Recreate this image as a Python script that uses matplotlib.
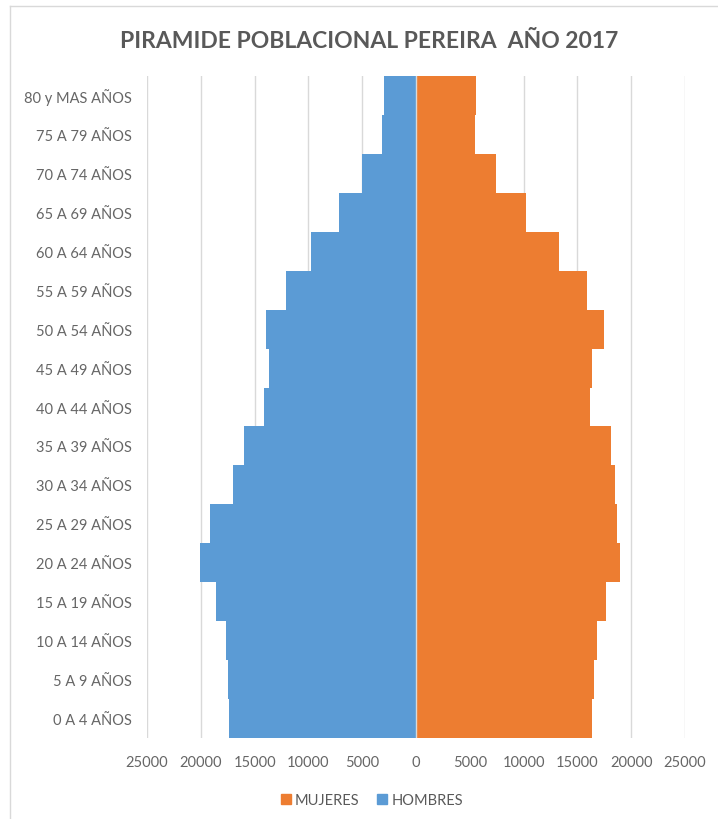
import numpy as np
import matplotlib.pyplot as plt
from matplotlib.patches import Patch
from matplotlib.lines import Line2D

# Grupos de edad (de abajo hacia arriba)
grupos = ['0 A 4 AÑOS', '5 A 9 AÑOS', '10 A 14 AÑOS', '15 A 19 AÑOS', '20 A 24 AÑOS',
          '25 A 29 AÑOS', '30 A 34 AÑOS', '35 A 39 AÑOS', '40 A 44 AÑOS', '45 A 49 AÑOS',
          '50 A 54 AÑOS', '55 A 59 AÑOS', '60 A 64 AÑOS', '65 A 69 AÑOS', '70 A 74 AÑOS',
          '75 A 79 AÑOS', '80 y MAS AÑOS']

hombres = [17350, 17500, 17650, 18550, 20050, 19100, 17050, 15950, 14100, 13700,
           13900, 12100, 9800, 7200, 5000, 3200, 3000]
mujeres = [16400, 16500, 16800, 17700, 18950, 18650, 18450, 18100, 16200, 16400,
           17450, 15850, 13250, 10250, 7450, 5500, 5600]

ticks = [-25000, -20000, -15000, -10000, -5000, 0, 5000, 10000, 15000, 20000, 25000]

azul = '#5B9BD5'
naranja = '#ED7D31'
gris = '#595959'

plt.rcParams['font.family'] = ['Lato', 'DejaVu Sans']

fig = plt.figure(figsize=(7.18, 8.2), dpi=100)
ax = fig.add_axes([147 / 718, 81 / 820, 538 / 718, 662 / 820])

y = np.arange(len(grupos))
ax.barh(y, [-h for h in hombres], height=1.0, color=azul, zorder=2)
ax.barh(y, mujeres, height=1.0, color=naranja, zorder=2)

ax.set_xlim(-25000, 25000)
ax.set_ylim(-0.5, len(grupos) - 0.5)

# lineas de cuadricula verticales
ax.set_xticks(ticks)
ax.set_xticklabels([str(abs(t)) for t in ticks])
ax.grid(axis='x', color='#D9D9D9', linewidth=1.0, zorder=0)
ax.axvline(0, color='#D9D9D9', linewidth=1.0, zorder=3)

ax.set_yticks(y)
ax.set_yticklabels(grupos)
ax.tick_params(axis='y', length=0, pad=11, labelsize=10.5, labelcolor='#666666')
ax.tick_params(axis='x', length=0, pad=12, labelsize=10.5, labelcolor='#666666')

for s in ax.spines.values():
    s.set_visible(False)

fig.suptitle('PIRAMIDE POBLACIONAL PEREIRA  AÑO 2017', x=369 / 718, y=1 - 42 / 820,
             va='center', fontsize=16.5, fontweight='bold', color=gris)

handles = [Patch(color=naranja, label='MUJERES'), Patch(color=azul, label='HOMBRES')]
fig.legend(handles=handles, loc='center', bbox_to_anchor=(372 / 718, 1 - 801 / 820),
           ncol=2, frameon=False, handlelength=0.7, handleheight=0.7,
           handletextpad=0.3, columnspacing=1.2, fontsize=10.5, labelcolor=gris)

# borde del area del grafico
fig.add_artist(Line2D([10 / 718, 1], [1 - 7 / 820, 1 - 7 / 820], color='#D9D9D9',
                      linewidth=1.0, transform=fig.transFigure))
fig.add_artist(Line2D([10 / 718, 10 / 718], [0, 1 - 7 / 820], color='#D9D9D9',
                      linewidth=1.0, transform=fig.transFigure))

fig.savefig('out.png', dpi=100)
